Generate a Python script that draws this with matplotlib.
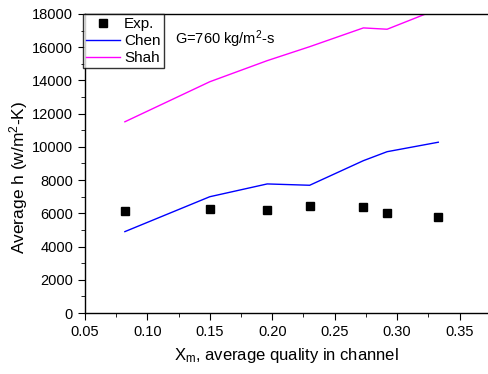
import matplotlib
matplotlib.use("Agg")
import matplotlib.pyplot as plt
from matplotlib.ticker import MultipleLocator

plt.rcParams['font.family'] = ['Liberation Sans', 'DejaVu Sans']
plt.rcParams['mathtext.fontset'] = 'custom'
plt.rcParams['mathtext.rm'] = 'Liberation Sans'
plt.rcParams['mathtext.it'] = 'Liberation Sans:italic'
plt.rcParams['mathtext.bf'] = 'Liberation Sans:bold'

# Average quality in channel and heat transfer coefficients
x_exp = [0.082, 0.150, 0.196, 0.230, 0.273, 0.292, 0.333]
h_exp = [6160, 6240, 6180, 6440, 6360, 6040, 5780]
h_chen = [4900, 7000, 7770, 7690, 9170, 9710, 10280]
h_shah = [11510, 13920, 15190, 16030, 17160, 17080, 18300]

fig = plt.figure(figsize=(4.88, 3.74), dpi=100)
ax = fig.add_axes([0.174, 0.163, 0.826, 0.7997])

ax.plot(x_exp, h_exp, 's', color='black', markersize=6, label='Exp.', zorder=3)
ax.plot(x_exp, h_chen, '-', color='#0000ff', linewidth=1.0, label='Chen')
ax.plot(x_exp, h_shah, '-', color='#ff00ff', linewidth=1.0, label='Shah')

ax.set_xlim(0.05, 0.3728)
ax.set_ylim(0, 18000)
ax.xaxis.set_major_locator(MultipleLocator(0.05))
ax.xaxis.set_minor_locator(MultipleLocator(0.025))
ax.yaxis.set_major_locator(MultipleLocator(2000))
ax.yaxis.set_minor_locator(MultipleLocator(1000))
ax.xaxis.set_major_formatter(plt.FuncFormatter(lambda v, p: f"{v:.2f}"))

ax.tick_params(which='both', direction='out', labelsize=10.5, top=False, right=False)
ax.tick_params(which='major', length=5)
ax.tick_params(which='minor', length=3)
ax.spines['right'].set_visible(False)
for s in ('left', 'bottom', 'top'):
    ax.spines[s].set_linewidth(1.0)

ax.set_xlabel(r'X$_{\rm m}$, average quality in channel', fontsize=12, labelpad=5)
ax.set_ylabel(r'Average h (w/m$^{2}$-K)', fontsize=12.5, labelpad=1.5)
ax.yaxis.label.set_y(0.455)

ax.text(0.223, 0.915, r'G=760 kg/m$^{2}$-s', transform=ax.transAxes, fontsize=10.5,
        va='center', ha='left')

leg = ax.legend(loc='upper left', bbox_to_anchor=(-0.005, 1.0), borderaxespad=0,
                fontsize=11, frameon=True, fancybox=False, edgecolor='black',
                handlelength=2.2, handletextpad=0.3, labelspacing=0.2,
                borderpad=0.2)
leg.get_frame().set_linewidth(1.0)

fig.savefig('out.png', dpi=100)
